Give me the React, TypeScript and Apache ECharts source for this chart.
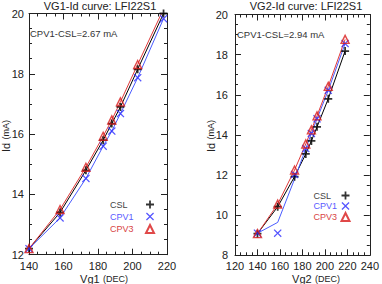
import React, { useEffect, useRef } from "react";
import * as echarts from "echarts";

const xValues = [140, 158, 173, 183, 188, 193, 203, 218];

const leftCSL = [12.2, 13.4, 14.8, 15.8, 16.35, 16.9, 18.15, 20.0];
const leftCPV1 = [12.2, 13.22, 14.53, 15.6, 16.1, 16.68, 17.87, 19.83];
const leftCPV3 = [12.2, 13.5, 14.9, 15.93, 16.47, 17.07, 18.31, 20.15];

const rightCSL = [9.08, 10.42, 11.92, 13.05, 13.7, 14.4, 15.8, 18.18];
const rightCPV1 = [9.1, 9.1, 12.03, 13.32, 14.07, 14.8, 16.22, 18.55];
const rightCPV1Line = [9.1, 9.64, 11.8, 13.32, 14.07, 14.8, 16.22, 18.55];
const rightCPV3 = [9.08, 10.55, 12.25, 13.55, 14.25, 14.95, 16.42, 18.76];

const seriesNames = ["CSL", "CPV1", "CPV3"];
const titles = ["VG1-Id curve: LFI22S1", "VG2-Id curve: LFI22S1"];
const notes = ["CPV1-CSL=2.67 mA", "CPV1-CSL=2.94 mA"];
const xNames = ["Vg1", "Vg2"];

const FONT = "Liberation Sans";
const black = "#000000";
const blue = "#2a2aff";
const red = "#d81a1a";
const blueLine = "#4a5cff";
const redLine = "#e03a3a";

const PLUS = "path://M-0.22,-1H0.22V-0.22H1V0.22H0.22V1H-0.22V0.22H-1V-0.22H-0.22Z";
const CROSS =
  "path://M-1,-0.78L-0.78,-1L0,-0.22L0.78,-1L1,-0.78L0.22,0L1,0.78L0.78,1L0,0.22L-0.78,1L-1,0.78L-0.22,0Z";

const zip = (xs: number[], ys: number[]) => xs.map((x, i) => [x, ys[i]]);

export default function App() {
  const ref = useRef<HTMLDivElement>(null);
  useEffect(() => {
    if (!ref.current) return;
    const chart = echarts.init(ref.current, null, { renderer: "svg" });

    const grids = [
      { left: 29, top: 13.5, width: 138, height: 241.2 },
      { left: 235, top: 14.5, width: 138.5, height: 240.8 },
    ];
    const xr = [
      { min: 140, max: 220 },
      { min: 120, max: 240 },
    ];
    const yr = [
      { min: 12, max: 20 },
      { min: 8, max: 20 },
    ];

    const xAxis: any[] = [];
    const yAxis: any[] = [];
    [0, 1].forEach((g) => {
      const common = {
        type: "value",
        gridIndex: g,
        interval: 20,
        min: xr[g].min,
        max: xr[g].max,
        axisLine: { show: true, lineStyle: { color: "#222", width: 1 } },
        axisTick: { show: true, inside: true, length: 6, lineStyle: { color: "#222" } },
        minorTick: { show: true, splitNumber: 4, length: 3, lineStyle: { color: "#222" } },
        splitLine: { show: false },
      };
      xAxis.push({
        ...common,
        position: "bottom",
        axisLabel: { fontFamily: FONT, fontSize: 11, color: "#222", margin: 5.5, lineHeight: 11 },
      });
      xAxis.push({ ...common, position: "top", axisLabel: { show: false } });
      const ycommon = {
        type: "value",
        gridIndex: g,
        interval: 2,
        min: yr[g].min,
        max: yr[g].max,
        axisLine: { show: true, lineStyle: { color: "#222", width: 1 } },
        axisTick: { show: true, inside: true, length: 6, lineStyle: { color: "#222" } },
        minorTick: { show: true, splitNumber: 4, length: 3, lineStyle: { color: "#222" } },
        splitLine: { show: false },
      };
      yAxis.push({
        ...ycommon,
        position: "left",
        axisLabel: { fontFamily: FONT, fontSize: 11, color: "#222", margin: g === 0 ? 5 : 7 },
      });
      yAxis.push({ ...ycommon, position: "right", axisLabel: { show: false } });
    });

    const panels = [
      { csl: leftCSL, cpv1: leftCPV1, cpv1Line: leftCPV1, cpv3: leftCPV3 },
      { csl: rightCSL, cpv1: rightCPV1, cpv1Line: rightCPV1Line, cpv3: rightCPV3 },
    ];

    const series: any[] = [];
    panels.forEach((p, g) => {
      const xi = g * 2;
      const yi = g * 2;
      const lines = [
        { name: "CSL line", data: p.csl, color: black },
        { name: "CPV1 line", data: p.cpv1Line, color: blueLine },
        { name: "CPV3 line", data: p.cpv3, color: redLine },
      ];
      lines.forEach((l) =>
        series.push({
          type: "line",
          name: l.name,
          xAxisIndex: xi,
          yAxisIndex: yi,
          data: zip(xValues, l.data),
          showSymbol: false,
          lineStyle: { color: l.color, width: 1 },
          itemStyle: { color: l.color },
          z: 2,
        })
      );
      series.push({
        type: "scatter",
        name: seriesNames[0],
        xAxisIndex: xi,
        yAxisIndex: yi,
        data: zip(xValues, p.csl),
        symbol: PLUS,
        symbolSize: 8,
        itemStyle: { color: black },
        z: 3,
      });
      series.push({
        type: "scatter",
        name: seriesNames[1],
        xAxisIndex: xi,
        yAxisIndex: yi,
        data: zip(xValues, p.cpv1),
        symbol: CROSS,
        symbolSize: 8,
        itemStyle: { color: blue },
        z: 3,
      });
      series.push({
        type: "scatter",
        name: seriesNames[2],
        xAxisIndex: xi,
        yAxisIndex: yi,
        data: zip(xValues, p.cpv3),
        symbol: "triangle",
        symbolSize: 8,
        itemStyle: { color: "rgba(255,255,255,0)", borderColor: red, borderWidth: 1.4 },
        z: 4,
      });
    });

    const legendColors = ["#444", "#5a5aff", "#d84444"];
    const mkLegend = (left: number, top: number, textW: number, gap: number) => ({
      orient: "vertical",
      left,
      top,
      align: "right",
      padding: 0,
      itemWidth: 8,
      itemHeight: 8,
      itemGap: gap,
      selectedMode: false,
      data: seriesNames.map((n, i) => ({ name: n, textStyle: { color: legendColors[i] } })),
      formatter: (n: string) => `{t|${n}}`,
      textStyle: {
        fontFamily: FONT,
        fontSize: 9,
        rich: {
          t: { width: textW, align: "left", fontFamily: FONT, fontSize: 9, lineHeight: 9 },
        },
      },
    });

    const nameText = (x: number, y: number, main: string, sub: string, rotate: boolean) => ({
      type: "text",
      x,
      y,
      rotation: rotate ? Math.PI / 2 : 0,
      style: {
        text: `{a|${main}} {b|(${sub})}`,
        align: "center",
        verticalAlign: "middle",
        rich: {
          a: { fontFamily: FONT, fontSize: 11, fill: "#222", lineHeight: 11 },
          b: { fontFamily: FONT, fontSize: 9, fill: "#222", lineHeight: 11 },
        },
      },
    });

    chart.setOption({
      animation: false,
      title: [
        {
          text: titles[0],
          left: 100,
          top: 0,
          padding: 0,
          textAlign: "center",
          textStyle: { fontFamily: FONT, fontSize: 11, fontWeight: "normal", color: "#222" },
        },
        {
          text: titles[1],
          left: 306,
          top: 0,
          padding: 0,
          textAlign: "center",
          textStyle: { fontFamily: FONT, fontSize: 11, fontWeight: "normal", color: "#222" },
        },
      ],
      grid: grids,
      xAxis,
      yAxis,
      legend: [mkLegend(110, 200, 31, 3), mkLegend(313.5, 191, 23, 1.5)],
      graphic: [
        {
          type: "text",
          left: 30,
          top: 28,
          style: { text: notes[0], font: `9.5px '${FONT}'`, fill: "#333" },
        },
        {
          type: "text",
          left: 237,
          top: 29,
          style: { text: notes[1], font: `9.5px '${FONT}'`, fill: "#333" },
        },
        nameText(104, 278.5, xNames[0], "DEC", false),
        nameText(316, 278.5, xNames[1], "DEC", false),
        nameText(6, 136, "Id", "mA", true),
        nameText(211, 136, "Id", "mA", true),
      ],
      series,
    });
    return () => chart.dispose();
  }, []);
  return (
    <div
      ref={ref}
      style={{ position: "absolute", left: 0, top: 0, width: 382, height: 284 }}
    />
  );
}
